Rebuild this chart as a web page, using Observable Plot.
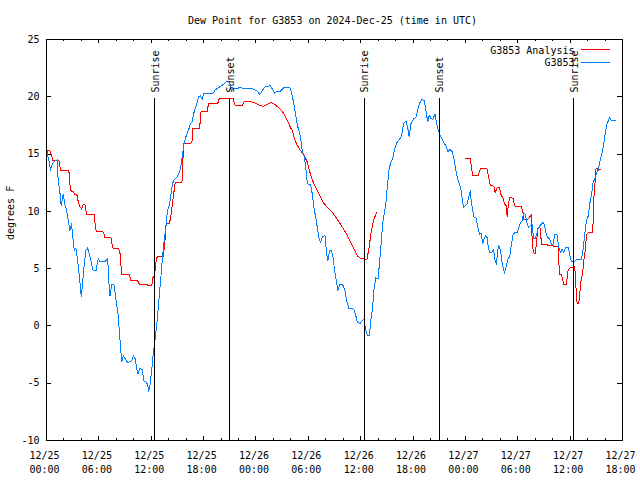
<!DOCTYPE html>
<html><head><meta charset="utf-8">
<script src="https://cdn.jsdelivr.net/npm/d3@7"></script>
<script src="https://cdn.jsdelivr.net/npm/@observablehq/plot@0.6"></script>
<style>body{margin:0;background:#fff} svg{display:block}</style>
</head><body><div id="chart"></div>
<script>
const title = "Dew Point for G3853 on 2024-Dec-25 (time in UTC)";
const yLabel = "degrees F";
const startUTC = "2024-12-25T00:00:00Z";
const endUTC = "2024-12-27T18:00:00Z";
const yTicks = [-10, -5, 0, 5, 10, 15, 20, 25];
const sunTimes = ["2024-12-25T12:23:00Z", "2024-12-25T21:00:00Z", "2024-12-26T12:23:00Z", "2024-12-26T21:00:00Z", "2024-12-27T12:24:00Z"];
const sunLabels = ["Sunrise", "Sunset", "Sunrise", "Sunset", "Sunrise"];
const seriesNames = ["G3853 Analysis", "G3853"];
const seriesColors = ["#ff0000", "#0080ff"];

// G3853 observations: hours since 2024-12-25 00:00 UTC, dew point (F)
const obsHours = [0.0,0.07,0.30,0.46,0.69,0.95,1.22,1.34,1.53,1.68,1.91,2.10,2.30,2.49,2.68,2.87,3.06,3.18,3.37,3.52,3.75,3.98,4.13,4.33,4.52,4.71,4.90,5.17,5.36,5.67,5.93,6.13,6.70,7.01,7.16,7.28,7.47,7.74,7.97,8.20,8.43,8.62,8.81,9.04,9.31,9.57,9.77,9.96,10.19,10.34,10.49,10.72,10.95,11.18,11.41,11.57,11.72,11.87,12.07,12.18,12.33,12.56,12.71,12.91,13.10,13.29,13.48,13.68,13.86,14.09,14.37,14.55,14.94,15.24,15.40,15.59,15.78,16.01,16.28,16.47,16.67,16.85,17.05,17.24,17.43,17.62,17.85,18.00,19.08,19.34,19.92,20.30,20.61,20.99,21.18,21.38,21.84,22.22,22.53,23.56,24.14,24.44,24.71,24.98,25.36,25.59,25.86,26.13,26.44,26.82,27.20,27.89,28.16,28.34,28.54,28.74,28.92,29.11,29.31,29.49,29.69,29.89,30.26,30.46,30.64,30.84,31.03,31.22,31.41,31.61,31.91,32.10,32.25,32.45,32.64,32.83,33.02,33.22,33.40,33.63,33.91,34.17,34.40,34.67,35.06,35.24,35.44,35.63,35.93,36.21,36.39,36.55,36.78,37.01,37.16,37.36,37.54,37.74,38.00,38.11,38.31,38.51,38.69,38.89,39.08,39.26,39.46,39.66,39.84,40.15,40.41,40.69,40.92,41.18,41.38,41.56,41.76,42.07,42.33,42.53,42.71,42.99,43.29,43.48,43.68,43.86,44.06,44.25,44.52,44.71,44.90,45.13,45.40,45.59,45.78,45.98,46.24,46.51,46.74,46.90,47.05,47.31,47.51,47.62,47.77,48.00,48.20,48.39,48.57,48.66,48.81,48.97,49.23,49.43,49.61,49.80,50.00,50.18,50.30,50.49,50.57,50.76,51.03,51.22,51.41,51.56,51.72,51.84,51.99,52.10,52.22,52.37,52.48,52.68,52.87,53.10,53.25,53.45,53.63,53.91,54.09,54.29,54.52,54.67,54.86,55.06,55.24,55.44,55.63,55.82,56.01,56.21,56.39,56.70,56.93,57.08,57.28,57.47,57.66,57.85,58.05,58.23,58.51,58.69,58.89,59.08,59.26,59.46,59.77,59.95,60.15,60.46,60.72,61.30,61.49,61.68,61.87,62.07,62.25,62.45,62.64,62.83,63.02,63.22,63.40,63.60,63.79,63.98,64.17,64.37,64.55,64.75,65.24];
const obsValues = [16.7,15.0,14.4,13.6,14.2,14.4,14.5,12.7,11.7,10.5,11.5,10.6,10.1,9.2,8.3,8.9,7.4,6.6,6.8,6.0,4.5,2.6,3.7,5.4,6.6,6.8,6.3,5.4,4.8,4.8,5.9,5.6,5.6,5.9,3.7,2.6,3.6,3.6,2.2,1.0,-1.3,-3.1,-2.6,-2.9,-3.2,-3.1,-3.0,-2.6,-2.9,-3.8,-4.2,-3.7,-3.8,-4.8,-4.9,-5.1,-5.7,-5.1,-3.8,-2.8,-1.9,-0.4,0.7,2.5,4.2,6.0,7.4,8.6,10.1,10.6,12.1,12.7,13.0,13.4,14.0,15.0,16.0,16.6,17.1,17.6,17.8,18.5,19.0,19.4,20.0,20.1,19.8,20.3,20.3,20.6,20.9,21.1,21.3,21.3,20.5,20.7,20.7,20.85,20.7,20.7,20.5,20.2,20.5,20.85,20.9,21.0,20.7,20.3,20.5,20.5,20.8,20.8,20.1,19.4,18.5,17.5,17.1,16.4,15.3,14.9,14.0,12.4,12.3,11.5,10.35,9.5,8.6,7.7,7.3,7.8,7.9,6.3,5.7,6.6,6.6,6.0,4.8,3.9,3.1,3.65,3.65,3.2,2.2,1.5,1.5,1.4,0.9,0.3,0.2,0.5,0.6,-0.3,-0.8,-0.8,0.44,1.6,3.35,4.2,4.1,5.1,6.85,8.9,9.8,10.65,12.4,13.7,14.3,14.6,15.3,16.0,16.25,16.6,17.65,17.9,17.35,16.5,17.65,18.1,18.2,18.8,19.4,19.75,19.7,18.8,17.8,18.4,18.1,18.0,18.5,17.65,17.06,16.6,16.2,15.9,15.7,15.2,15.4,15.2,14.4,13.6,13.0,12.4,11.8,11.2,10.35,10.5,10.65,11.3,11.8,10.9,10.2,9.5,9.4,8.6,8.0,8.1,7.15,7.7,7.85,7.7,7.15,6.4,6.4,6.7,5.7,5.4,6.7,7.0,6.7,6.2,5.4,4.95,4.6,5.25,5.8,6.1,7.0,7.9,8.15,8.15,8.45,9.0,9.2,9.9,9.75,9.0,8.6,8.75,8.9,7.6,7.6,8.15,8.6,8.9,9.05,8.75,7.9,7.7,7.6,7.15,7.15,7.95,7.95,6.85,6.4,6.7,6.4,6.85,6.85,6.25,5.6,5.6,5.8,5.8,6.7,8.0,9.2,9.6,10.65,11.5,12.55,12.85,13.3,13.7,14.3,14.9,15.6,16.6,17.5,17.9,18.2,17.9,17.9];

// G3853 Analysis: hours since 2024-12-25 00:00 UTC, dew point (F); null = gap
const anaHours = [0.0,0.38,0.57,0.76,1.45,1.61,2.56,2.68,2.79,3.06,3.25,3.52,3.63,3.83,4.02,4.21,4.40,4.60,5.47,5.63,5.82,6.51,6.70,7.39,7.59,8.23,8.43,8.62,9.49,9.66,10.41,10.64,11.49,11.68,12.07,12.18,12.37,12.56,12.71,13.40,13.60,13.71,14.09,14.25,14.75,15.52,15.59,15.70,16.55,16.67,16.78,17.54,17.62,17.70,18.39,18.57,19.61,19.80,21.38,21.53,21.64,22.41,22.68,23.37,23.94,24.32,24.83,25.21,25.67,26.05,26.44,26.82,27.13,27.39,27.66,27.97,28.16,28.43,28.74,29.11,29.49,29.89,30.26,30.64,31.03,31.41,31.79,32.18,32.76,33.33,33.91,34.48,35.06,35.63,36.01,36.39,36.70,36.97,37.16,37.47,37.82,42.0,48.00,48.57,48.74,48.85,49.43,49.72,50.49,50.69,50.84,51.26,51.41,51.64,51.91,52.10,52.30,52.48,52.68,52.79,52.87,53.06,53.45,53.63,53.83,54.40,54.60,54.71,55.17,55.36,55.55,55.63,55.78,56.01,56.24,56.32,56.59,56.70,57.28,57.47,58.05,58.16,58.62,58.74,58.80,59.00,59.20,59.26,59.57,59.77,59.95,60.34,60.53,60.64,60.72,60.80,60.99,61.10,61.22,61.38,61.49,61.61,61.76,61.87,62.14,62.56,62.68,62.76,62.91,62.97,63.14,63.25,63.52];
const anaValues = [15.3,15.3,14.9,14.4,14.4,13.6,13.6,12.4,11.8,11.7,11.5,11.4,10.85,10.4,10.2,10.6,10.6,9.7,9.7,8.45,8.2,8.2,7.7,7.7,6.8,6.8,6.3,4.5,4.5,4.0,4.0,3.65,3.65,3.5,3.5,4.2,4.4,5.7,6.1,6.1,7.7,8.95,8.95,9.6,12.55,12.55,13.56,15.95,15.95,16.1,17.26,17.26,17.9,18.7,18.7,19.4,19.4,19.83,19.83,19.4,19.25,19.25,19.6,19.6,19.45,19.3,19.15,19.3,19.5,19.4,19.15,18.9,18.6,18.2,17.8,17.3,17.06,16.3,15.75,15.3,14.9,14.3,13.2,12.4,11.8,11.2,10.7,10.35,9.9,9.3,8.6,7.9,7.0,6.1,5.9,5.85,5.75,6.85,8.0,9.2,9.9,null,14.6,14.6,13.56,13.1,13.1,13.7,13.7,12.85,12.3,12.2,11.65,12.05,12.1,11.4,11.2,10.65,10.5,9.5,10.2,11.2,11.15,10.5,10.4,10.4,9.9,9.3,9.3,9.5,9.75,7.9,6.4,6.3,8.0,8.55,8.55,7.15,7.15,7.0,7.0,6.9,6.9,5.1,4.5,4.5,3.9,3.6,3.6,4.9,5.05,5.15,5.2,3.65,2.8,1.95,1.95,2.8,3.8,4.4,5.1,6.0,6.7,8.0,8.15,8.15,9.6,12.1,12.7,13.75,13.75,13.6,13.7];

const W = 640, H = 480, mL = 46, mR = 18, mT = 39, mB = 40;
const innerW = W - mL - mR, innerH = H - mT - mB;
const t0 = Date.parse(startUTC);
const toDate = h => new Date(t0 + h * 3600e3);
const obs = obsHours.map((h, i) => ({t: toDate(h), v: obsValues[i]}));
const ana = anaHours.map((h, i) => ({t: toDate(h), v: anaValues[i]}));
const x0 = new Date(startUTC), x1 = new Date(endUTC);
const major = d3.utcHour.every(6).range(x0, new Date(+x1 + 1));
const minor = d3.utcHour.every(2).range(x0, new Date(+x1 + 1));
const fmt = d3.utcFormat("%m/%d\n%H:%M");
const sun = sunTimes.map((s, i) => ({t: new Date(s), label: sunLabels[i]}));
const yTop = d3.max(yTicks);

const chart = Plot.plot({
  width: W, height: H,
  marginLeft: mL, marginRight: mR, marginTop: mT, marginBottom: mB,
  style: {fontFamily: "'DejaVu Sans Mono', monospace", fontSize: "10px", background: "white", color: "black"},
  x: {type: "utc", domain: [x0, x1], axis: null},
  y: {domain: [d3.min(yTicks), yTop], axis: null},
  marks: [
    // ticks (inward, mirrored)
    Plot.ruleX(minor, {x: d => d, insetTop: innerH - 2, stroke: "black", shapeRendering: "crispEdges"}),
    Plot.ruleX(minor, {x: d => d, insetBottom: innerH - 2, stroke: "black", shapeRendering: "crispEdges"}),
    Plot.ruleX(major, {x: d => d, insetTop: innerH - 4, stroke: "black", shapeRendering: "crispEdges"}),
    Plot.ruleX(major, {x: d => d, insetBottom: innerH - 4, stroke: "black", shapeRendering: "crispEdges"}),
    Plot.ruleY(yTicks, {y: d => d, insetRight: innerW - 5, stroke: "black", shapeRendering: "crispEdges"}),
    Plot.ruleY(yTicks, {y: d => d, insetLeft: innerW - 5, stroke: "black", shapeRendering: "crispEdges"}),
    // tick labels
    Plot.text(yTicks, {y: d => d, text: d => String(d), frameAnchor: "left", textAnchor: "end", lineAnchor: "middle", dx: -7}),
    Plot.text(major, {x: d => d, text: d => fmt(d), frameAnchor: "bottom", lineAnchor: "top", lineHeight: 1.45, dy: 8, dx: -2}),
    Plot.text([yLabel], {frameAnchor: "left", rotate: -90, lineAnchor: "middle", dx: -36}),
    Plot.text([title], {frameAnchor: "top", lineAnchor: "middle", dy: -19, dx: -2}),
    // data
    Plot.line(ana, {x: "t", y: "v", stroke: seriesColors[0], strokeWidth: 1, shapeRendering: "crispEdges"}),
    Plot.line(obs, {x: "t", y: "v", stroke: seriesColors[1], strokeWidth: 1, shapeRendering: "crispEdges"}),
    // sunrise / sunset
    Plot.ruleX(sun, {x: "t", insetTop: 59, stroke: "black", shapeRendering: "crispEdges"}),
    Plot.text(sun, {x: "t", text: "label", frameAnchor: "top", rotate: -90, textAnchor: "start", lineAnchor: "middle", dy: 53, dx: 1}),
    // legend
    Plot.text([seriesNames[0]], {frameAnchor: "top-right", textAnchor: "end", lineAnchor: "middle", dx: -48, dy: 11}),
    Plot.text([seriesNames[1]], {frameAnchor: "top-right", textAnchor: "end", lineAnchor: "middle", dx: -48, dy: 23.5}),
    Plot.ruleY([yTop], {y: d => d, insetLeft: 535, insetRight: 12, dy: 10, stroke: seriesColors[0], shapeRendering: "crispEdges"}),
    Plot.ruleY([yTop], {y: d => d, insetLeft: 535, insetRight: 12, dy: 23, stroke: seriesColors[1], shapeRendering: "crispEdges"}),
    Plot.frame({stroke: "black", shapeRendering: "crispEdges"})
  ]
});
document.getElementById("chart").appendChild(chart);
</script>
</body></html>
